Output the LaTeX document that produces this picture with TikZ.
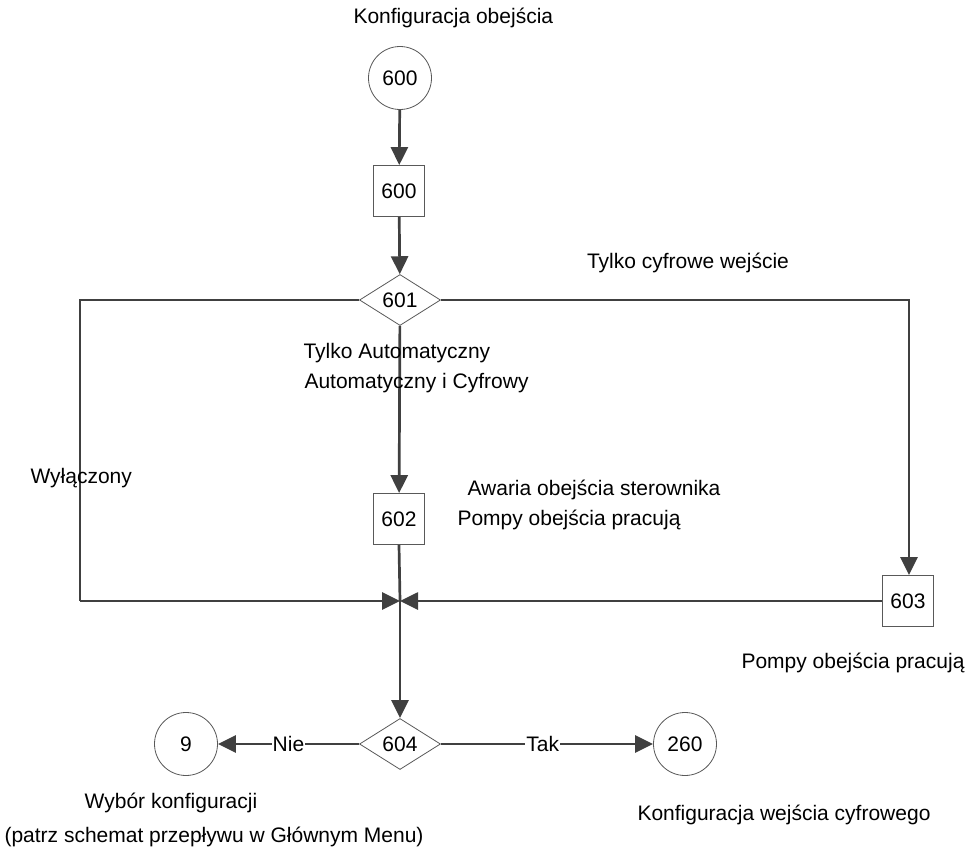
\documentclass[tikz,border=0pt]{standalone}
\usepackage{fontspec}
\setmainfont{Liberation Sans}
\usetikzlibrary{shapes.geometric,arrows.meta}
\begin{document}
\begin{tikzpicture}[x=1pt,y=-1pt,
  every node/.style={font=\fontsize{21}{25}\selectfont},
  shp/.style={draw=black!65,line width=0.8pt,fill=white,inner sep=0pt},
  circ/.style={shp,circle,minimum size=63pt},
  box/.style={shp,rectangle,minimum width=51pt,minimum height=51pt},
  dia/.style={shp,diamond,minimum width=81pt,minimum height=51pt,aspect=1.6},
  flow/.style={draw=black!75,line width=2.7pt,-{Triangle[length=18pt,width=17pt]}},
  plain/.style={draw=black!75,line width=2.7pt},
  lbl/.style={fill=white,inner sep=1pt}]
\useasboundingbox (0,0) rectangle (972,851);
\node[circ] (c600) at (400,78) {600};
\node[box] (b600) at (399,191) {600};
\node[dia] (d601) at (400,300) {601};
\node[box] (b602) at (399,519) {602};
\node[box] (b603) at (908,601) {603};
\coordinate (j) at (400,601);
\node[dia] (d604) at (400,744) {604};
\node[circ] (c9) at (186,744) {9};
\node[circ] (c260) at (685,744) {260};
\coordinate (lc1) at (80,300);
\coordinate (lc2) at (80,601);
\coordinate (rc1) at (909,300);

\draw[flow] (c600) -- (b600);
\draw[flow] (b600) -- (d601);
\draw[flow] (d601) -- (b602);
\draw[plain] (d601.west) -- (lc1) -- (lc2);
\draw[flow] (lc2) -- (j);
\draw[flow] (d601.east) -- (rc1) -- (b603.north -| rc1);
\draw[flow] (b603.west) -- (j);
\draw[plain] (b602.south) -- (j);
\draw[flow] (j) -- (d604.north);
\draw[flow] (d604.west) -- node[lbl,pos=0.5]{Nie} (c9);
\draw[flow] (d604.east) -- node[lbl,pos=0.48]{Tak} (c260);

\node[anchor=west] at (350,18) {Konfiguracja obejścia};
\node at (688,263) {Tylko cyfrowe wejście};
\node[anchor=west] at (300,353) {Tylko Automatyczny};
\node[anchor=west] at (301,383) {Automatyczny i Cyfrowy};
\node[anchor=west] at (27,478) {Wyłączony};
\node[anchor=west] at (464,490) {Awaria obejścia sterownika};
\node[anchor=west] at (454,520) {Pompy obejścia pracują};
\node at (853,663) {Pompy obejścia pracują};
\node at (171,803) {Wybór konfiguracji};
\node[anchor=west] at (1,837) {(patrz schemat przepływu w Głównym Menu)};
\node at (784,815) {Konfiguracja wejścia cyfrowego};
\end{tikzpicture}
\end{document}
